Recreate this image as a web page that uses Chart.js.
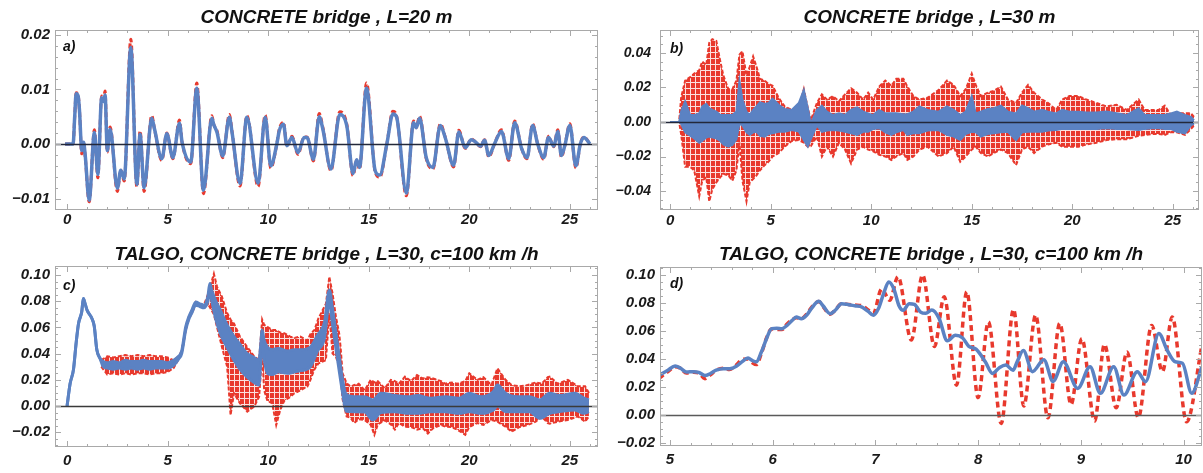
<!DOCTYPE html>
<html>
<head>
<meta charset="utf-8">
<script src="https://cdn.jsdelivr.net/npm/chart.js@4.4.1/dist/chart.umd.min.js"></script>
<style>
  body { margin: 0; background: #fff; }
  #wrap { position: relative; width: 1203px; height: 473px; overflow: hidden; }
  canvas { position: absolute; }
</style>
</head>
<body>
<div id="wrap">
  <canvas id="pa" width="601" height="232" style="left:0;top:0"></canvas>
  <canvas id="pb" width="602" height="232" style="left:601px;top:0"></canvas>
  <canvas id="pc" width="601" height="241" style="left:0;top:232px"></canvas>
  <canvas id="pd" width="602" height="241" style="left:601px;top:232px"></canvas>
</div>
<script>
// ---- panel a) CONCRETE bridge, L=20 m
const aTime = [
  -0.1, 0.3, 0.38, 0.45, 0.55, 0.62, 0.73, 0.82, 0.9, 1.1,
  1.36, 1.53, 1.72, 1.8, 1.89, 2.0, 2.14, 2.5, 2.67, 2.84,
  3.17, 3.47, 3.63, 3.83, 4.21, 4.35, 4.71, 4.96, 5.26, 5.59,
  5.72, 6.15, 6.45, 6.78, 7.2, 7.3, 7.45, 7.74, 8.07, 8.2,
  8.6, 8.94, 9.5, 9.85, 10.13, 10.43, 10.55, 10.76, 10.93, 11.18,
  11.48, 11.79, 11.93, 12.25, 12.54, 12.72, 13.12, 13.56, 13.91, 14.22,
  14.4, 14.54, 14.89, 15.32, 15.55, 15.9, 16.2, 16.38, 16.87, 17.23,
  17.36, 17.53, 17.86, 18.19, 18.56, 18.8, 19.22, 19.48, 19.8, 20.1,
  20.3, 20.56, 20.76, 20.97, 21.25, 21.6, 21.96, 22.26, 22.6, 22.87,
  23.15, 23.4, 23.7, 23.94, 24.2, 24.4, 24.58, 24.75, 25.0, 25.3,
  25.52, 25.7, 26.0
];
const aBlue = [
  0, 0, 0.005, 0.0092, 0.0088, 0.006, -0.0012, 0.0003, -0.002, -0.0103,
  0.0021, -0.0056, 0.0085, 0.0078, 0.009, -0.0012, 0.0027, -0.0081, -0.0048, -0.0064,
  0.0177, -0.0074, 0.0018, -0.008, 0.0047, 0.0027, -0.0027, 0.0019, -0.0025, 0.0038,
  0.0003, -0.0033, 0.0102, -0.0085, 0.0047, 0.0035, 0.0022, -0.0022, 0.0049, 0.0022,
  -0.0072, 0.0049, -0.0072, 0.0049, -0.004, 0, 0.0024, 0.0036, -0.0003, 0.0012,
  -0.0016, 0.0012, 0.0012, -0.0028, 0.005, 0.0027, -0.0046, 0.0054, 0.0033, -0.0054,
  -0.0029, -0.0043, 0.0102, -0.0049, -0.0057, 0, 0.0055, 0.005, -0.009, 0.0039,
  0.003, 0.0047, -0.0025, -0.0043, 0.0034, 0.0012, -0.0039, 0.0022, -0.0007, 0.0008,
  0.0004, -0.0004, 0.0007, -0.0021, 0, 0.0023, -0.0027, 0.0039, -0.0008, -0.0025,
  0.0034, 0, -0.0025, 0.0012, -0.0004, 0.0023, -0.0021, -0.0003, 0.0034, -0.004,
  0, 0.0012, 0
];
const aRed = [
  0, 0, 0.005, 0.0094, 0.009, 0.006, -0.0018, 0.0004, -0.0022, -0.0106,
  0.0026, -0.0062, 0.0088, 0.008, 0.0097, -0.0015, 0.0031, -0.0087, -0.0048, -0.0068,
  0.0192, -0.0079, 0.0024, -0.0087, 0.0052, 0.0027, -0.003, 0.002, -0.0027, 0.0044,
  0.0003, -0.0036, 0.0112, -0.0091, 0.0052, 0.0035, 0.0025, -0.0025, 0.0054, 0.0024,
  -0.0077, 0.0052, -0.0078, 0.0053, -0.0044, 0, 0.0027, 0.004, -0.0004, 0.0014,
  -0.0019, 0.0013, 0.0013, -0.0031, 0.0056, 0.003, -0.0049, 0.0059, 0.0036, -0.0058,
  -0.003, -0.0046, 0.0112, -0.0051, -0.0061, 0, 0.006, 0.0052, -0.0095, 0.0042,
  0.003, 0.0051, -0.0027, -0.0046, 0.0037, 0.0013, -0.0042, 0.0025, -0.0008, 0.0009,
  0.0004, -0.0005, 0.0008, -0.0024, 0, 0.0026, -0.003, 0.0042, -0.0008, -0.0027,
  0.0037, 0, -0.0028, 0.0014, -0.0005, 0.0026, -0.0024, -0.0003, 0.0037, -0.0044,
  0, 0.0013, 0
];

// ---- panel b) CONCRETE bridge, L=30 m  (upper / lower edges of the bands)
const bTime = [
  0, 0.45, 0.55, 0.75, 1.0, 1.2, 1.45, 1.6, 1.8, 1.95,
  2.1, 2.3, 2.5, 2.65, 2.9, 3.1, 3.3, 3.45, 3.6, 3.8,
  3.96, 4.13, 4.3, 4.47, 4.7, 4.9, 5.1, 5.4, 5.7, 6.05,
  6.4, 6.65, 6.85, 7.0, 7.3, 7.55, 7.8, 8.1, 8.4, 8.7,
  9.0, 9.3, 9.6, 9.85, 10.1, 10.4, 10.7, 11.0, 11.25, 11.6,
  11.8, 12.1, 12.4, 12.8, 13.35, 13.77, 14.1, 14.43, 14.7, 15.0,
  15.2, 15.45, 15.8, 16.1, 16.45, 16.8, 17.2, 17.5, 17.8, 18.1,
  18.5, 18.8, 19.2, 19.5, 19.85, 20.3, 20.7, 21.2, 21.7, 22.2,
  22.7, 23.3, 23.6, 24.0, 24.3, 24.6, 24.9, 25.2, 25.6, 25.9,
  26.05
];
const bRedHi = [
  0, 0, 0.014, 0.024, 0.026, 0.028, 0.03, 0.035, 0.033, 0.046,
  0.048, 0.047, 0.035, 0.027, 0.019, 0.019, 0.024, 0.039, 0.041, 0.027,
  0.032, 0.038, 0.032, 0.025, 0.024, 0.022, 0.021, 0.014, 0.009, 0.007,
  0.008, 0.019, 0.008, 0.001, 0.011, 0.016, 0.013, 0.015, 0.012, 0.016,
  0.0195, 0.017, 0.013, 0.017, 0.013, 0.0205, 0.024, 0.021, 0.025, 0.025,
  0.0205, 0.015, 0.013, 0.014, 0.0185, 0.024, 0.0215, 0.015, 0.019, 0.028,
  0.0215, 0.015, 0.017, 0.018, 0.0205, 0.013, 0.011, 0.017, 0.0215, 0.017,
  0.013, 0.011, 0.007, 0.013, 0.015, 0.015, 0.013, 0.011, 0.009, 0.01,
  0.007, 0.013, 0.007, 0.007, 0.007, 0.0095, 0.004, 0.005, 0.005, 0.005,
  0.003
];
const bRedLo = [
  0, 0, -0.007, -0.026, -0.026, -0.028, -0.043, -0.034, -0.032, -0.046,
  -0.039, -0.035, -0.032, -0.03, -0.031, -0.034, -0.028, -0.012, -0.034, -0.046,
  -0.035, -0.033, -0.031, -0.028, -0.025, -0.023, -0.02, -0.018, -0.0143, -0.011,
  -0.0105, -0.012, -0.0143, -0.014, -0.0085, -0.02, -0.0143, -0.02, -0.012, -0.016,
  -0.024, -0.016, -0.0143, -0.016, -0.017, -0.019, -0.02, -0.022, -0.02, -0.018,
  -0.022, -0.02, -0.016, -0.0143, -0.02, -0.018, -0.0143, -0.023, -0.02, -0.016,
  -0.0143, -0.018, -0.02, -0.018, -0.016, -0.018, -0.025, -0.016, -0.0143, -0.018,
  -0.0143, -0.013, -0.012, -0.0143, -0.0143, -0.0143, -0.013, -0.012, -0.0105, -0.01,
  -0.01, -0.008, -0.0075, -0.007, -0.007, -0.0075, -0.006, -0.006, -0.0075, -0.004,
  -0.002
];
const bBlueHi = [
  0, 0, 0.006, 0.012, 0.004, 0.004, 0.005, 0.009, 0.0105, 0.008,
  0.007, 0.006, 0.004, 0.004, 0.004, 0.004, 0.006, 0.024, 0.013, 0.006,
  0.004, 0.007, 0.009, 0.0115, 0.0105, 0.011, 0.0135, 0.01, 0.0075, 0.007,
  0.011, 0.0185, 0.008, -0.001, 0.007, 0.0095, 0.006, 0.004, 0.005, 0.004,
  0.007, 0.0085, 0.006, 0.005, 0.004, 0.007, 0.005, 0.005, 0.005, 0.0045,
  0.0045, 0.006, 0.009, 0.007, 0.006, 0.009, 0.007, 0.004, 0.006, 0.015,
  0.005, 0.006, 0.0075, 0.008, 0.0095, 0.006, 0.005, 0.0095, 0.008, 0.006,
  0.007, 0.006, 0.005, 0.007, 0.006, 0.006, 0.0055, 0.0055, 0.006, 0.005,
  0.004, 0.008, 0.004, 0.004, 0.004, 0.004, 0.005, 0.006, 0.004, 0.003,
  0.001
];
const bBlueLo = [
  0, 0, -0.001, -0.006, -0.008, -0.0095, -0.012, -0.011, -0.009, -0.0085,
  -0.009, -0.0095, -0.011, -0.013, -0.0143, -0.0133, -0.01, -0.001, -0.002, -0.006,
  -0.0075, -0.006, -0.0057, -0.008, -0.0085, -0.007, -0.0066, -0.0057, -0.0057, -0.0047,
  -0.0055, -0.0105, -0.0143, -0.01, -0.002, -0.0057, -0.005, -0.0047, -0.005, -0.0057,
  -0.0066, -0.0075, -0.0057, -0.0057, -0.004, -0.0036, -0.006, -0.0075, -0.006, -0.0047,
  -0.0075, -0.0066, -0.0066, -0.005, -0.0047, -0.0075, -0.0085, -0.0105, -0.007, -0.0057,
  -0.006, -0.0085, -0.007, -0.0066, -0.006, -0.0057, -0.0105, -0.006, -0.0057, -0.0057,
  -0.0057, -0.005, -0.0047, -0.004, -0.004, -0.004, -0.004, -0.004, -0.0036, -0.004,
  -0.004, -0.0047, -0.004, -0.0036, -0.0036, -0.004, -0.004, -0.0057, -0.0066, -0.002,
  -0.001
];

// ---- panel c) TALGO, CONCRETE bridge, L=30, c=100 km/h
const cBlueTime = [
  0, 0.15, 0.32, 0.45, 0.57, 0.73, 0.81, 0.9, 1.0, 1.23,
  1.35, 1.48, 1.65, 1.8, 2.0, 2.3, 2.6, 2.9, 3.2, 3.5,
  3.8, 4.1, 4.4, 4.7, 5.0, 5.3, 5.55, 5.7, 5.9, 6.05,
  6.2, 6.4, 6.6, 6.8, 7.0, 7.1, 7.2, 7.4, 7.63, 7.95,
  8.3, 8.6, 8.96, 9.3, 9.54, 9.62, 9.7, 9.8, 9.96, 10.2,
  10.5, 10.96, 11.3, 11.62, 12.1, 12.45, 12.8, 13.04, 13.2, 13.37,
  13.53, 13.7, 13.87, 14.3, 14.8, 15.2, 15.6, 16.3, 17.0, 17.4,
  18.1, 18.8, 19.5, 20.0, 20.6, 21.2, 21.4, 21.8, 22.4, 23.0,
  23.5, 24.0, 24.5, 25.25, 25.7, 25.95
];
const cBlueHi = [
  0, 0.017, 0.028, 0.048, 0.063, 0.072, 0.082, 0.078, 0.073, 0.067,
  0.061, 0.043, 0.036, 0.034, 0.033, 0.034, 0.033, 0.035, 0.034, 0.034,
  0.035, 0.034, 0.034, 0.034, 0.033, 0.035, 0.038, 0.042, 0.0605, 0.068,
  0.073, 0.0795, 0.078, 0.077, 0.0835, 0.0935, 0.088, 0.08, 0.073, 0.062,
  0.053, 0.047, 0.04, 0.037, 0.035, 0.045, 0.058, 0.05, 0.045, 0.043,
  0.044, 0.042, 0.043, 0.043, 0.045, 0.054, 0.064, 0.0885, 0.074, 0.056,
  0.038, 0.02, 0.009, 0.007, 0.007, 0.0046, 0.0097, 0.008, 0.007, 0.008,
  0.006, 0.007, 0.006, 0.0097, 0.007, 0.011, 0.016, 0.0097, 0.007, 0.007,
  0.0046, 0.0097, 0.008, 0.0097, 0.006, 0.0046
];
const cBlueLo = [
  0, 0.017, 0.028, 0.048, 0.063, 0.072, 0.082, 0.078, 0.073, 0.067,
  0.061, 0.043, 0.036, 0.03, 0.029, 0.028, 0.029, 0.028, 0.029, 0.028,
  0.029, 0.028, 0.029, 0.029, 0.029, 0.031, 0.036, 0.04, 0.058, 0.066,
  0.071, 0.077, 0.076, 0.075, 0.08, 0.088, 0.08, 0.066, 0.055, 0.045,
  0.035, 0.028, 0.022, 0.018, 0.016, 0.03, 0.05, 0.036, 0.025, 0.024,
  0.026, 0.025, 0.026, 0.027, 0.03, 0.042, 0.052, 0.08, 0.062, 0.044,
  0.027, 0.01, -0.004, -0.0043, -0.0045, -0.0107, -0.005, -0.0043, -0.0056, -0.0056,
  -0.0043, -0.0043, -0.0056, -0.0043, -0.0056, -0.003, 0, -0.0043, -0.0043, -0.0043,
  -0.0094, -0.0056, -0.0043, -0.003, -0.0056, -0.0043
];
const cRedTime = [
  1.7, 2.0, 2.3, 2.6, 2.9, 3.2, 3.5, 3.8, 4.1, 4.4,
  4.7, 5.0, 5.3, 5.55, 5.7, 5.9, 6.05, 6.2, 6.4, 6.6,
  6.8, 7.0, 7.3, 7.46, 7.7, 7.96, 8.13, 8.3, 8.6, 8.96,
  9.3, 9.55, 9.7, 9.8, 9.96, 10.2, 10.4, 10.6, 10.8, 11.1,
  11.3, 11.6, 11.95, 12.1, 12.3, 12.5, 12.87, 13.04, 13.2, 13.37,
  13.53, 13.6, 13.7, 13.9, 14.1, 14.28, 14.5, 14.8, 15.1, 15.28,
  15.45, 15.8, 16.1, 16.3, 16.5, 16.8, 17.1, 17.4, 17.7, 17.94,
  18.2, 18.6, 18.8, 19.1, 19.4, 19.8, 20.0, 20.4, 20.7, 21.1,
  21.4, 21.8, 22.1, 22.5, 22.9, 23.3, 23.6, 23.9, 24.0, 24.4,
  24.9, 25.4, 25.76, 25.95
];
const cRedHi = [
  0.035, 0.038, 0.037, 0.038, 0.039, 0.038, 0.039, 0.038, 0.039, 0.038,
  0.038, 0.037, 0.035, 0.038, 0.042, 0.0605, 0.068, 0.073, 0.0795, 0.078,
  0.077, 0.085, 0.101, 0.091, 0.0835, 0.071, 0.066, 0.063, 0.053, 0.045,
  0.038, 0.035, 0.066, 0.062, 0.0605, 0.058, 0.058, 0.056, 0.0555, 0.053,
  0.052, 0.053, 0.05, 0.055, 0.058, 0.067, 0.078, 0.0987, 0.086, 0.068,
  0.0555, 0.045, 0.025, 0.0173, 0.0148, 0.016, 0.017, 0.012, 0.02, 0.018,
  0.019, 0.0135, 0.02, 0.019, 0.017, 0.0224, 0.019, 0.0237, 0.021, 0.022,
  0.021, 0.019, 0.017, 0.018, 0.017, 0.019, 0.025, 0.02, 0.022, 0.016,
  0.0288, 0.02, 0.016, 0.015, 0.016, 0.018, 0.017, 0.022, 0.0224, 0.017,
  0.02, 0.015, 0.015, 0.01
];
const cRedLo = [
  0.03, 0.024, 0.025, 0.024, 0.025, 0.024, 0.025, 0.025, 0.024, 0.025,
  0.025, 0.026, 0.029, 0.036, 0.04, 0.058, 0.066, 0.071, 0.077, 0.076,
  0.075, 0.078, 0.07, 0.06, 0.045, 0.03, -0.007, 0.0097, 0.002, -0.0043,
  -0.0005, 0.007, 0.04, 0.012, 0.004, 0.002, -0.0145, -0.003, 0.004, 0.007,
  0.0097, 0.012, 0.0148, 0.02, 0.028, 0.0325, 0.035, 0.0707, 0.04, 0.0377,
  0.03, 0.0224, 0.005, -0.008, -0.009, -0.013, -0.01, -0.0107, -0.0145, -0.022,
  -0.014, -0.011, -0.014, -0.018, -0.013, -0.0158, -0.016, -0.018, -0.017, -0.021,
  -0.017, -0.0145, -0.0158, -0.016, -0.018, -0.022, -0.016, -0.013, -0.0145, -0.0107,
  -0.012, -0.0158, -0.0196, -0.016, -0.0145, -0.012, -0.008, -0.013, -0.0135, -0.012,
  -0.0107, -0.008, -0.012, -0.008
];

// ---- panel d) zoom of c) between 5 and 10 s
const dBlueTime = [
  4.89, 4.98, 5.05, 5.1, 5.16, 5.23, 5.28, 5.34, 5.39, 5.45,
  5.52, 5.58, 5.65, 5.7, 5.76, 5.8, 5.84, 5.89, 5.94, 5.99,
  6.04, 6.09, 6.14, 6.19, 6.23, 6.28, 6.33, 6.38, 6.45, 6.49,
  6.56, 6.61, 6.67, 6.74, 6.8, 6.87, 6.93, 6.98, 7.03, 7.08,
  7.13, 7.18, 7.23, 7.27, 7.33, 7.38, 7.44, 7.49, 7.55, 7.62,
  7.7, 7.78, 7.85, 7.91, 7.98, 8.07, 8.14, 8.21, 8.27, 8.34,
  8.38, 8.44, 8.53, 8.64, 8.73, 8.83, 8.97, 9.09, 9.19, 9.32,
  9.42, 9.55, 9.63, 9.76, 9.84, 9.92, 9.99, 10.08, 10.18
];
const dBlue = [
  0.0283, 0.032, 0.035, 0.0336, 0.0307, 0.031, 0.0305, 0.0283, 0.0295, 0.032,
  0.033, 0.033, 0.035, 0.038, 0.0407, 0.039, 0.038, 0.045, 0.0545, 0.0617,
  0.062, 0.0617, 0.064, 0.0676, 0.07, 0.0688, 0.0712, 0.0764, 0.0812, 0.078,
  0.0724, 0.0748, 0.0795, 0.0788, 0.078, 0.0771, 0.074, 0.0712, 0.076, 0.0867,
  0.095, 0.09, 0.078, 0.0748, 0.0795, 0.079, 0.0735, 0.0726, 0.075, 0.069,
  0.053, 0.057, 0.055, 0.049, 0.047, 0.038, 0.0297, 0.034, 0.0357, 0.032,
  0.038, 0.046, 0.031, 0.0395, 0.024, 0.038, 0.019, 0.0345, 0.0155, 0.0345,
  0.0143, 0.031, 0.0238, 0.0583, 0.0464, 0.038, 0.037, 0.0155, 0.0345
];
const dRedTime = [
  4.89, 4.98, 5.05, 5.1, 5.16, 5.23, 5.28, 5.34, 5.39, 5.45,
  5.52, 5.58, 5.65, 5.7, 5.76, 5.8, 5.84, 5.89, 5.94, 5.99,
  6.04, 6.09, 6.14, 6.19, 6.23, 6.28, 6.33, 6.38, 6.45, 6.49,
  6.56, 6.61, 6.67, 6.74, 6.8, 6.87, 6.93, 6.98, 7.06, 7.14,
  7.22, 7.35, 7.46, 7.575, 7.67, 7.79, 7.89, 8.0, 8.1, 8.225,
  8.345, 8.445, 8.56, 8.68, 8.795, 8.905, 9.01, 9.135, 9.23, 9.345,
  9.45, 9.56, 9.69, 9.795, 9.89, 10.03, 10.18
];
const dRed = [
  0.026, 0.031, 0.0345, 0.0335, 0.03, 0.0305, 0.03, 0.026, 0.0285, 0.032,
  0.0335, 0.0325, 0.036, 0.0395, 0.04, 0.0375, 0.036, 0.044, 0.055, 0.0615,
  0.061, 0.061, 0.065, 0.068, 0.0695, 0.069, 0.072, 0.077, 0.081, 0.0775,
  0.072, 0.075, 0.0795, 0.079, 0.0785, 0.078, 0.075, 0.0725, 0.09, 0.082,
  0.0988, 0.0536, 0.1, 0.049, 0.0845, 0.0213, 0.088, 0.0125, 0.0665, -0.006,
  0.0755, 0.0065, 0.0713, -0.002, 0.0655, 0.0075, 0.0546, -0.0043, 0.0505, 0.0052,
  0.045, -0.0019, 0.064, 0.031, 0.07, -0.0048, 0.05
];

// tick labels
const longXTicks = [0, 5, 10, 15, 20, 25];
const dXTicks = [5, 6, 7, 8, 9, 10];
const aYTicks = [-0.01, 0, 0.01, 0.02];
const bYTicks = [-0.04, -0.02, 0, 0.02, 0.04];
const cYTicks = [-0.02, 0, 0.02, 0.04, 0.06, 0.08, 0.1];

const BLUE = '#5b82c3';
const RED = '#e8392d';
const FONT = '"Liberation Sans", Arial, Helvetica, sans-serif';

function pts(t, v) {
  return t.map((x, i) => ({ x: x, y: v[i] }));
}

// dashed red strokes packed together look like red with white specks
function redPattern() {
  const c = document.createElement('canvas');
  c.width = 5; c.height = 6;
  const g = c.getContext('2d');
  g.fillStyle = RED;
  g.fillRect(0, 0, 5, 6);
  g.fillStyle = 'rgba(255,255,255,0.85)';
  g.fillRect(4, 0, 1, 6);
  g.fillRect(0, 4, 4, 1);
  return g.createPattern(c, 'repeat');
}

function yLabel(v) {
  if (Math.abs(v) < 1e-9) return '0.00';
  return v < 0 ? '\u2212' + Math.abs(v).toFixed(2) : v.toFixed(2);
}

// frame with inward ticks, zero line, title and panel letter
const framePlugin = {
  id: 'frame',
  afterDatasetsDraw(chart, args, o) {
    const { ctx, chartArea: a } = chart;
    const x = chart.scales.x, y = chart.scales.y;
    ctx.save();
    const y0 = Math.round(y.getPixelForValue(0)) + 0.5;
    ctx.strokeStyle = o.zeroColor;
    ctx.lineWidth = 1.5;
    ctx.beginPath(); ctx.moveTo(a.left, y0); ctx.lineTo(a.right, y0); ctx.stroke();

    ctx.strokeStyle = '#a9a9a9';
    ctx.lineWidth = 1;
    ctx.strokeRect(a.left + 0.5, a.top + 0.5, a.width - 1, a.height - 1);

    ctx.beginPath();
    const xs = Math.ceil(x.min / o.xMinor - 1e-6), xe = Math.floor(x.max / o.xMinor + 1e-6);
    for (let k = xs; k <= xe; k++) {
      const v = k * o.xMinor;
      const major = o.xTicks.some(m => Math.abs(m - v) < o.xMinor / 10);
      const len = major ? 6 : 3;
      const px = Math.round(x.getPixelForValue(v)) + 0.5;
      ctx.moveTo(px, a.bottom); ctx.lineTo(px, a.bottom - len);
      ctx.moveTo(px, a.top); ctx.lineTo(px, a.top + len);
    }
    const ys = Math.ceil(y.min / o.yMinor - 1e-6), ye = Math.floor(y.max / o.yMinor + 1e-6);
    for (let k = ys; k <= ye; k++) {
      const v = k * o.yMinor;
      const major = o.yTicks.some(m => Math.abs(m - v) < o.yMinor / 10);
      const len = major ? 6 : 3;
      const py = Math.round(y.getPixelForValue(v)) + 0.5;
      ctx.moveTo(a.left, py); ctx.lineTo(a.left + len, py);
      ctx.moveTo(a.right, py); ctx.lineTo(a.right - len, py);
    }
    ctx.stroke();

    ctx.fillStyle = '#111';
    ctx.textBaseline = 'alphabetic';
    ctx.textAlign = 'center';
    ctx.font = 'italic bold 19px ' + FONT;
    ctx.fillText(o.title, (a.left + a.right) / 2, o.titleY);
    ctx.textAlign = 'left';
    ctx.font = 'italic bold 14px ' + FONT;
    ctx.fillText(o.label, a.left + o.labelDx, a.top + o.labelDy);
    ctx.restore();
  }
};

function makePanel(id, p) {
  const tickFont = { family: FONT, style: 'italic', weight: 'bold', size: 15 };
  return new Chart(document.getElementById(id), {
    type: 'line',
    data: { datasets: p.datasets },
    plugins: [framePlugin],
    options: {
      responsive: false,
      animation: false,
      parsing: false,
      events: [],
      layout: { padding: { top: p.padTop, right: p.padRight, left: 0, bottom: 0 } },
      elements: { point: { radius: 0 } },
      plugins: {
        legend: { display: false },
        tooltip: { enabled: false },
        frame: {
          title: p.title, titleY: p.titleY, label: p.label,
          labelDx: p.labelDx, labelDy: p.labelDy,
          xTicks: p.xTicks, yTicks: p.yTicks,
          xMinor: p.xMinor, yMinor: p.yMinor, zeroColor: p.zeroColor
        }
      },
      scales: {
        x: {
          type: 'linear', min: p.xMin, max: p.xMax,
          grid: { display: false, drawTicks: false },
          border: { display: false },
          afterBuildTicks: s => { s.ticks = p.xTicks.map(v => ({ value: v })); },
          afterFit: s => { s.height = p.xHeight; },
          ticks: { font: tickFont, color: '#1a1a1a', padding: p.xPad, maxRotation: 0,
                   callback: v => String(v) }
        },
        y: {
          type: 'linear', min: p.yMin, max: p.yMax,
          grid: { display: false, drawTicks: false },
          border: { display: false },
          afterBuildTicks: s => { s.ticks = p.yTicks.map(v => ({ value: v })); },
          afterFit: s => { s.width = p.yWidth; },
          ticks: { font: Object.assign({}, tickFont, { size: p.yFont || 15 }), color: '#1a1a1a',
                   padding: p.yPad, callback: v => yLabel(v) }
        }
      }
    }
  });
}

// a)
makePanel('pa', {
  xMin: -0.6, xMax: 26.4, yMin: -0.0121, yMax: 0.0209,
  xTicks: longXTicks, yTicks: aYTicks, xMinor: 1, yMinor: 0.002,
  padTop: 30, padRight: 3, yWidth: 55, xHeight: 22, xPad: 1, yPad: 5,
  title: 'CONCRETE bridge , L=20 m', titleY: 22.5, label: 'a)', labelDx: 8, labelDy: 21,
  zeroColor: '#23283a',
  datasets: [
    { data: pts(aTime, aBlue), borderColor: BLUE, borderWidth: 3.5, cubicInterpolationMode: 'monotone' },
    { data: pts(aTime, aRed), borderColor: RED, borderWidth: 3, borderDash: [5, 3], cubicInterpolationMode: 'monotone' }
  ]
});

// b)
makePanel('pb', {
  xMin: -0.5, xMax: 26.3, yMin: -0.051, yMax: 0.0533,
  xTicks: longXTicks, yTicks: bYTicks, xMinor: 1, yMinor: 0.005,
  padTop: 30, padRight: 4, yWidth: 59, xHeight: 22, xPad: 2, yPad: 9, yFont: 14,
  title: 'CONCRETE bridge , L=30 m', titleY: 22.5, label: 'b)', labelDx: 10, labelDy: 23,
  zeroColor: '#23283a',
  datasets: [
    { data: pts(bTime, bBlueHi), borderColor: BLUE, borderWidth: 2, fill: false },
    { data: pts(bTime, bBlueLo), borderColor: BLUE, borderWidth: 2, fill: '-1', backgroundColor: BLUE },
    { data: pts(bTime, bRedHi), borderColor: RED, borderWidth: 2, borderDash: [4, 2], fill: false },
    { data: pts(bTime, bRedLo), borderColor: RED, borderWidth: 2, borderDash: [4, 2], fill: '-1', backgroundColor: redPattern() }
  ]
});

// c)
makePanel('pc', {
  xMin: -0.6, xMax: 26.4, yMin: -0.0313, yMax: 0.1069,
  xTicks: longXTicks, yTicks: cYTicks, xMinor: 1, yMinor: 0.005,
  padTop: 34, padRight: 3, yWidth: 55, xHeight: 26, xPad: 5, yPad: 5,
  title: 'TALGO, CONCRETE bridge , L=30, c=100 km /h', titleY: 28, label: 'c)', labelDx: 8, labelDy: 24,
  zeroColor: '#3a3a3a',
  datasets: [
    { data: pts(cBlueTime, cBlueHi), borderColor: BLUE, borderWidth: 3, fill: false, cubicInterpolationMode: 'monotone' },
    { data: pts(cBlueTime, cBlueLo), borderColor: BLUE, borderWidth: 3, fill: '-1', backgroundColor: BLUE, cubicInterpolationMode: 'monotone' },
    { data: pts(cRedTime, cRedHi), borderColor: RED, borderWidth: 2, borderDash: [4, 2], fill: false },
    { data: pts(cRedTime, cRedLo), borderColor: RED, borderWidth: 2, borderDash: [4, 2], fill: '-1', backgroundColor: redPattern() }
  ]
});

// d)
makePanel('pd', {
  xMin: 4.903, xMax: 10.18, yMin: -0.0221, yMax: 0.1057,
  xTicks: dXTicks, yTicks: cYTicks, xMinor: 0.2, yMinor: 0.005,
  padTop: 35, padRight: 1, yWidth: 59, xHeight: 27, xPad: 5, yPad: 5,
  title: 'TALGO, CONCRETE bridge , L=30, c=100 km /h', titleY: 28, label: 'd)', labelDx: 10, labelDy: 21,
  zeroColor: '#5a5a5a',
  datasets: [
    { data: pts(dBlueTime, dBlue), borderColor: BLUE, borderWidth: 3.5, cubicInterpolationMode: 'monotone' },
    { data: pts(dRedTime, dRed), borderColor: RED, borderWidth: 3.5, borderDash: [6, 4], cubicInterpolationMode: 'monotone' }
  ]
});
</script>
</body>
</html>
